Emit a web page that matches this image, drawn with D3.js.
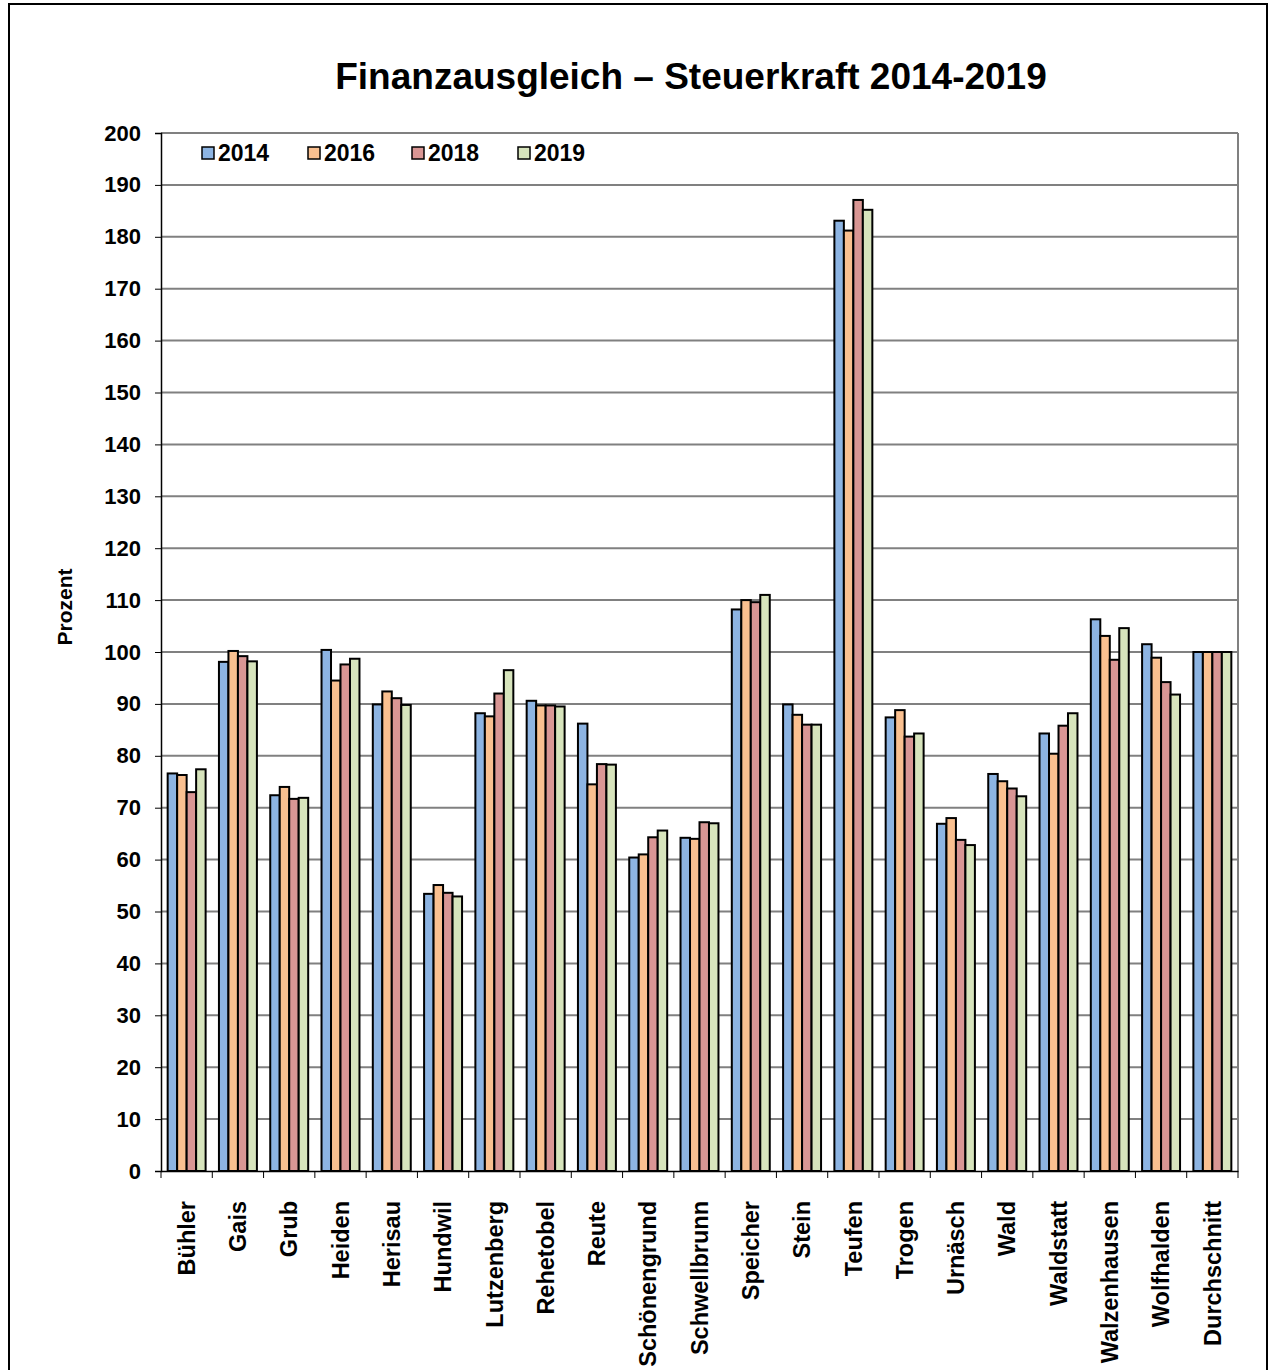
<!DOCTYPE html>
<html>
<head>
<meta charset="utf-8">
<script src="https://cdn.jsdelivr.net/npm/d3@7"></script>
<style>
  body { margin: 0; background: #fff; }
  svg text { font-family: "Liberation Sans", Arial, sans-serif; font-weight: bold; fill: #000; }
</style>
</head>
<body>
<div id="chart"></div>
<script>
// Gemeinden (categories)
const gemeinden = ["Bühler", "Gais", "Grub", "Heiden", "Herisau", "Hundwil", "Lutzenberg",
  "Rehetobel", "Reute", "Schönengrund", "Schwellbrunn", "Speicher", "Stein", "Teufen",
  "Trogen", "Urnäsch", "Wald", "Waldstatt", "Walzenhausen", "Wolfhalden", "Durchschnitt"];

const years = ["2014", "2016", "2018", "2019"];

// Steuerkraft in Prozent
const values2014 = [76.6, 98.1, 72.4, 100.4, 89.9, 53.4, 88.2, 90.6, 86.2, 60.4, 64.2, 108.2, 89.9, 183.1, 87.4, 66.9, 76.5, 84.3, 106.3, 101.5, 100];
const values2016 = [76.3, 100.2, 74.0, 94.5, 92.4, 55.1, 87.6, 89.7, 74.5, 61.0, 64.0, 110.0, 87.9, 181.2, 88.8, 68.0, 75.1, 80.4, 103.1, 98.9, 100];
const values2018 = [73.0, 99.2, 71.7, 97.6, 91.1, 53.6, 92.0, 89.7, 78.4, 64.3, 67.2, 109.6, 86.0, 187.1, 83.7, 63.8, 73.7, 85.8, 98.5, 94.2, 100];
const values2019 = [77.4, 98.2, 71.9, 98.7, 89.8, 52.9, 96.5, 89.5, 78.3, 65.6, 67.0, 111.0, 86.0, 185.2, 84.3, 62.8, 72.2, 88.2, 104.6, 91.8, 100];

const yTicks = d3.range(0, 201, 10);
const colors = ["#8DB4E2", "#FAC090", "#D99694", "#D7E4BC"];

const seriesValues = [values2014, values2016, values2018, values2019];
const rows = gemeinden.map((g, i) => ({ name: g, vals: seriesValues.map(s => s[i]) }));

const W = 1275, H = 1370;
const margin = { top: 133, right: 37, bottom: 199, left: 161 };
const width = W - margin.left - margin.right;
const height = H - margin.top - margin.bottom;

const svg = d3.select("#chart").append("svg")
  .attr("width", W)
  .attr("height", H);

// outer frame
svg.append("rect")
  .attr("x", 9).attr("y", 4)
  .attr("width", 1258).attr("height", H + 10)
  .attr("fill", "none").attr("stroke", "#000").attr("stroke-width", 2);

// title
svg.append("text")
  .attr("x", 691).attr("y", 89)
  .attr("text-anchor", "middle")
  .style("font-size", "37px")
  .text("Finanzausgleich – Steuerkraft 2014-2019");

const g = svg.append("g").attr("transform", `translate(${margin.left},${margin.top})`);

const x = d3.scaleBand().domain(gemeinden).range([0, width]).paddingInner(0).paddingOuter(0);
const x1 = d3.scaleBand().domain(years).range([x.bandwidth() * 0.13, x.bandwidth() * 0.87]);
const y = d3.scaleLinear().domain([0, 200]).range([height, 0]);

// gridlines
g.append("g")
  .selectAll("line")
  .data(yTicks.filter(d => d > 0))
  .enter().append("line")
  .attr("x1", 0).attr("x2", width)
  .attr("y1", d => y(d)).attr("y2", d => y(d))
  .attr("stroke", "#808080").attr("stroke-width", 2);

// plot border right
g.append("line")
  .attr("x1", width).attr("x2", width)
  .attr("y1", 0).attr("y2", height)
  .attr("stroke", "#808080").attr("stroke-width", 2);

// bars
const groups = g.selectAll(".grp")
  .data(rows)
  .enter().append("g")
  .attr("class", "grp")
  .attr("transform", d => `translate(${x(d.name)},0)`);

groups.selectAll("rect")
  .data(d => d.vals.map((v, i) => ({ year: years[i], v, i })))
  .enter().append("rect")
  .attr("x", d => x1(d.year))
  .attr("y", d => y(d.v))
  .attr("width", x1.bandwidth())
  .attr("height", d => y(0) - y(d.v))
  .attr("fill", d => colors[d.i])
  .attr("stroke", "#000")
  .attr("stroke-width", 2);

// y axis
const yAxis = g.append("g")
  .call(d3.axisLeft(y).tickValues(yTicks).tickSize(6).tickPadding(14));
yAxis.select(".domain").attr("stroke", "#000").attr("stroke-width", 1.5);
yAxis.selectAll(".tick line").attr("stroke", "#000");
yAxis.selectAll("text")
  .style("font-size", "22px")
  .style("font-family", "Liberation Sans, Arial, sans-serif")
  .style("font-weight", "bold");

// x axis
const xAxis = g.append("g")
  .attr("transform", `translate(0,${height})`)
  .call(d3.axisBottom(x).tickSize(0).tickPadding(0));
xAxis.select(".domain").attr("stroke", "#000").attr("stroke-width", 1.5);
xAxis.selectAll(".tick text")
  .attr("transform", "rotate(-90)")
  .attr("x", -30)
  .attr("y", 0)
  .attr("dy", "0.35em")
  .attr("text-anchor", "end")
  .style("font-size", "23.5px")
  .style("font-family", "Liberation Sans, Arial, sans-serif")
  .style("font-weight", "bold");

// category boundary ticks
g.append("g")
  .selectAll("line")
  .data(d3.range(gemeinden.length + 1))
  .enter().append("line")
  .attr("x1", i => i * x.step()).attr("x2", i => i * x.step())
  .attr("y1", height).attr("y2", height + 7)
  .attr("stroke", "#000").attr("stroke-width", 1);

// y axis title
svg.append("text")
  .attr("transform", "translate(72,607) rotate(-90)")
  .attr("text-anchor", "middle")
  .style("font-size", "21px")
  .text("Prozent");

// legend
const legendX = [202, 308, 412, 518];
const legend = svg.append("g");
years.forEach((yr, i) => {
  legend.append("rect")
    .attr("x", legendX[i]).attr("y", 147)
    .attr("width", 12).attr("height", 12)
    .attr("fill", colors[i]).attr("stroke", "#000").attr("stroke-width", 1.5);
  legend.append("text")
    .attr("x", legendX[i] + 16).attr("y", 161)
    .style("font-size", "23px")
    .text(yr);
});
</script>
</body>
</html>
